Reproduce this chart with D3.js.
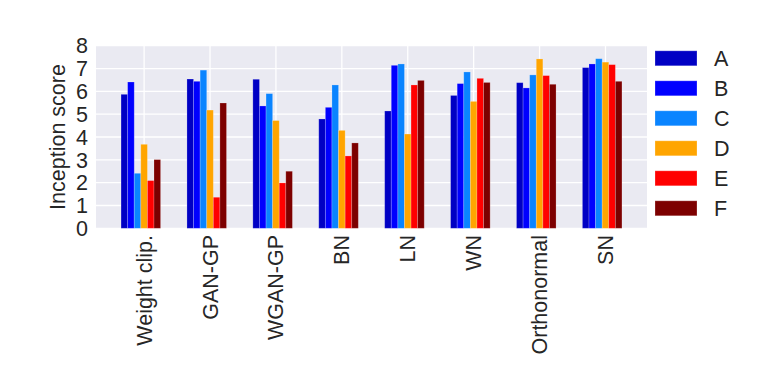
<!DOCTYPE html>
<html>
<head>
<meta charset="utf-8">
<script src="https://cdn.jsdelivr.net/npm/d3@7"></script>
<style>
  body { margin: 0; background: #fff; }
  text { font-family: "Liberation Sans", Arial, sans-serif; fill: #262626; }
</style>
</head>
<body>
<svg id="chart" width="761" height="381"></svg>
<script>
const methods = ['Weight clip.', 'GAN-GP', 'WGAN-GP', 'BN', 'LN', 'WN', 'Orthonormal', 'SN']
const seriesNames = ['A', 'B', 'C', 'D', 'E', 'F']
const colors = ['#0000c4', '#0000ff', '#0a84ff', '#ffa500', '#ff0000', '#7d0000']
// one array per series, values per method
const A = [5.87, 6.54, 6.53, 4.79, 5.14, 5.82, 6.38, 7.04]
const B = [6.41, 6.44, 5.36, 5.30, 7.14, 6.34, 6.15, 7.20]
const C = [2.41, 6.93, 5.90, 6.28, 7.20, 6.85, 6.72, 7.43]
const D = [3.68, 5.18, 4.72, 4.29, 4.13, 5.56, 7.42, 7.28]
const E = [2.09, 1.36, 1.99, 3.17, 6.28, 6.57, 6.69, 7.17]
const F = [3.01, 5.49, 2.50, 3.74, 6.48, 6.39, 6.31, 6.44]
const series = [A, B, C, D, E, F]
const yTicks = [0, 1, 2, 3, 4, 5, 6, 7, 8]

const barW = 0.1
const plotL = 96, plotR = 647, plotT = 45.7, plotB = 228.3
const fs = 21.5

const svg = d3.select('#chart')

const x = d3.scaleLinear().domain([-0.38, 7.98]).range([plotL, plotR])
const y = d3.scaleLinear().domain([0, 8]).range([plotB, plotT])

svg.append('rect')
  .attr('x', plotL).attr('y', plotT)
  .attr('width', plotR - plotL).attr('height', plotB - plotT)
  .attr('fill', '#eaeaf2')

// grid
svg.append('g').selectAll('line').data(yTicks).join('line')
  .attr('x1', plotL).attr('x2', plotR)
  .attr('y1', d => y(d)).attr('y2', d => y(d))
  .attr('stroke', '#fff').attr('stroke-width', 1.3)
svg.append('g').selectAll('line').data(methods).join('line')
  .attr('x1', (d, i) => x(i + 0.35)).attr('x2', (d, i) => x(i + 0.35))
  .attr('y1', plotT).attr('y2', plotB)
  .attr('stroke', '#fff').attr('stroke-width', 1.3)

// bars
const bars = []
series.forEach((vals, k) => vals.forEach((v, i) => bars.push({ i, k, v })))
svg.append('g').selectAll('rect').data(bars).join('rect')
  .attr('x', d => x(d.i + d.k * barW))
  .attr('width', x(barW) - x(0))
  .attr('y', d => y(d.v))
  .attr('height', d => y(0) - y(d.v))
  .attr('fill', d => colors[d.k])
  .attr('stroke', 'rgba(255,255,255,0.25)')
  .attr('stroke-width', 0.8)

// y axis labels
svg.append('g').selectAll('text').data(yTicks).join('text')
  .attr('x', 88).attr('y', d => y(d))
  .attr('dy', '0.36em')
  .attr('text-anchor', 'end')
  .attr('font-size', fs)
  .text(d => d)

svg.append('text')
  .attr('transform', `translate(65,${(plotT + plotB) / 2}) rotate(-90)`)
  .attr('text-anchor', 'middle')
  .attr('font-size', fs)
  .text('Inception score')

// x tick labels
svg.append('g').selectAll('text').data(methods).join('text')
  .attr('transform', (d, i) => `translate(${x(i + 0.35) + 7.5},235) rotate(-90)`)
  .attr('text-anchor', 'end')
  .attr('font-size', fs)
  .text(d => d)

// legend
const lg = svg.append('g').selectAll('g').data(seriesNames).join('g')
  .attr('transform', (d, k) => `translate(655,${58.3 + k * 30})`)
lg.append('rect')
  .attr('x', 0).attr('y', -7.5).attr('width', 42).attr('height', 15)
  .attr('fill', (d, k) => colors[k])
  .attr('stroke', 'rgba(255,255,255,0.25)')
lg.append('text')
  .attr('x', 59).attr('dy', '0.36em')
  .attr('font-size', fs)
  .text(d => d)
</script>
</body>
</html>
